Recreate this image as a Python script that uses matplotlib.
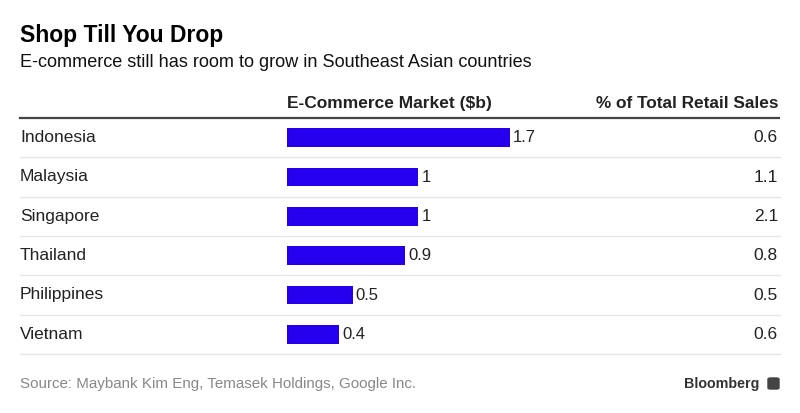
import matplotlib.pyplot as plt
import matplotlib.transforms as mtransforms
from matplotlib.patches import FancyBboxPatch

countries = ['Indonesia', 'Malaysia', 'Singapore', 'Thailand', 'Philippines', 'Vietnam']
market_b = [1.7, 1, 1, 0.9, 0.5, 0.4]
market_labels = ['1.7', '1', '1', '0.9', '0.5', '0.4']
retail_pct = ['0.6', '1.1', '2.1', '0.8', '0.5', '0.6']

plt.rcParams['font.family'] = ['Liberation Sans', 'DejaVu Sans']

W, H = 800, 413
fig = plt.figure(figsize=(8, 4.13), dpi=100)
fig.patch.set_facecolor('white')

# bar axes: starts at x=287px, 131px per unit, rows from y=118 to 354
top_px, bot_px = 118, 354
ax = fig.add_axes([287 / W, 1 - bot_px / H, 3 * 131 / W, (bot_px - top_px) / H])
ax.set_xlim(0, 3)
ax.set_ylim(len(countries) - 0.5, -0.5)
ax.axis('off')

y = range(len(countries))
bars = ax.barh(y, market_b, height=0.48, color='#2600ee')
for yi, v, lab in zip(y, market_b, market_labels):
    ax.text(v + 0.025, yi, lab, va='center', ha='left', fontsize=12, color='#222222')

trans = mtransforms.blended_transform_factory(fig.transFigure, ax.transData)
for yi, name, pct in zip(y, countries, retail_pct):
    ax.text(20 / W, yi, name, transform=trans, va='center', ha='left', fontsize=12.5, color='#222222')
    ax.text(778 / W, yi, pct, transform=trans, va='center', ha='right', fontsize=12.5, color='#222222')
    ax.plot([20 / W, 780 / W], [yi + 0.5, yi + 0.5], transform=trans, color='#e6e6e6',
            lw=1, clip_on=False, zorder=0)

# header rule
fig.add_artist(plt.Line2D([20 / W, 779 / W], [1 - 118 / H, 1 - 118 / H], color='#444444', lw=1.6))

fig.text(20 / W, 1 - 42 / H, 'Shop Till You Drop', fontsize=16.5, fontweight='bold', va='baseline', ha='left')
fig.text(20 / W, 1 - 67 / H, 'E-commerce still has room to grow in Southeast Asian countries',
         fontsize=13.1, va='baseline', ha='left', color='#111111')
fig.text(287 / W, 1 - 108 / H, 'E-Commerce Market ($b)', fontsize=12.5, fontweight='bold',
         va='baseline', ha='left', color='#222222')
fig.text(778 / W, 1 - 108 / H, '% of Total Retail Sales', fontsize=12.4, fontweight='bold',
         va='baseline', ha='right', color='#222222')

fig.text(20 / W, 1 - 388 / H, 'Source: Maybank Kim Eng, Temasek Holdings, Google Inc.',
         fontsize=10.9, va='baseline', ha='left', color='#888888')
fig.text(759 / W, 1 - 388 / H, 'Bloomberg', fontsize=10.3, fontweight='bold',
         va='baseline', ha='right', color='#333333')
fig.add_artist(FancyBboxPatch((768 / W, 1 - 389 / H), 11 / W, 11 / H,
                              boxstyle='round,pad=0,rounding_size=0.003',
                              transform=fig.transFigure, color='#444444'))

fig.savefig('out.png', dpi=100)
